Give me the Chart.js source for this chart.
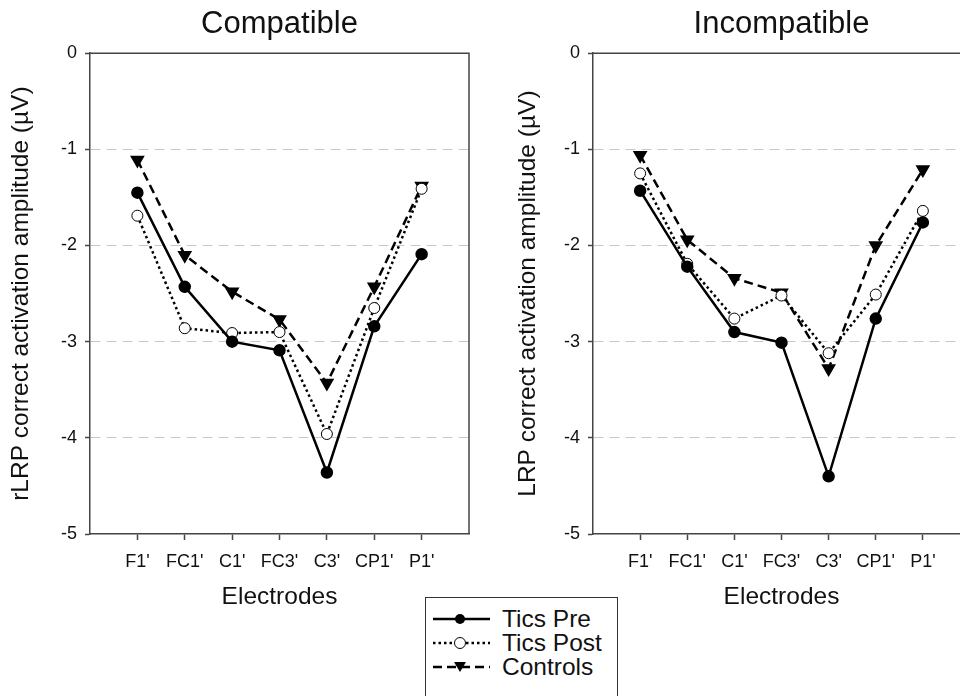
<!DOCTYPE html>
<html>
<head>
<meta charset="utf-8">
<script src="https://cdn.jsdelivr.net/npm/chart.js@4"></script>
<style>
  body { margin: 0; width: 960px; height: 696px; overflow: hidden; background: #fff; position: relative;
         font-family: "Liberation Sans", Arial, sans-serif; }
  #leftBox { position: absolute; left: 0; top: 0; width: 480px; height: 620px; }
  #rightBox { position: absolute; left: 480px; top: 0; width: 480px; height: 620px; overflow: hidden; }
  #legend { position: absolute; left: 425px; top: 597px; width: 193px; height: 120px; border: 1.5px solid #333;
            background: #fff; padding-top: 9px; box-sizing: border-box; }
  .row { display: flex; align-items: center; height: 24px; font-size: 24.5px; color: #111; }
  .row svg { margin-left: 6px; margin-right: 6px; }
</style>
</head>
<body>
<div id="leftBox"><canvas id="comp" width="480" height="620"></canvas></div>
<div id="rightBox"><canvas id="incomp" width="501" height="620"></canvas></div>
<div id="legend">
  <div class="row"><svg width="64" height="24"><line x1="1" y1="12" x2="58" y2="12" stroke="#000" stroke-width="2.5"/><circle cx="28" cy="12" r="5" fill="#000"/></svg>Tics Pre</div>
  <div class="row"><svg width="64" height="24"><line x1="1" y1="12" x2="58" y2="12" stroke="#000" stroke-width="2.5" stroke-dasharray="2.5 3"/><circle cx="28" cy="12" r="5.5" fill="#fff" stroke="#000" stroke-width="1"/></svg>Tics Post</div>
  <div class="row"><svg width="64" height="24"><line x1="1" y1="12" x2="58" y2="12" stroke="#000" stroke-width="2.5" stroke-dasharray="9 5"/><polygon points="22,7 34,7 28,17" fill="#000"/></svg>Controls</div>
</div>
<script>
// electrodes on the x axis
const electrodes = ["F1'", "FC1'", "C1'", "FC3'", "C3'", "CP1'", "P1'"];
const yTicks = [0, -1, -2, -3, -4, -5];

// Compatible
const compPre  = [-1.45, -2.43, -3.00, -3.09, -4.36, -2.84, -2.09];
const compPost = [-1.69, -2.86, -2.91, -2.90, -3.96, -2.65, -1.41];
const compCtrl = [-1.11, -2.10, -2.48, -2.77, -3.43, -2.43, -1.38];

// Incompatible
const incPre  = [-1.43, -2.22, -2.90, -3.01, -4.40, -2.76, -1.76];
const incPost = [-1.25, -2.19, -2.76, -2.52, -3.12, -2.51, -1.64];
const incCtrl = [-1.06, -1.94, -2.34, -2.49, -3.28, -2.00, -1.21];

const FONT = "'Liberation Sans', Arial, sans-serif";

// draws the top and right line of the plot frame
const framePlugin = {
  id: "frame",
  beforeDatasetsDraw(chart) {
    const {ctx, chartArea: a} = chart;
    ctx.save();
    ctx.strokeStyle = "#444";
    ctx.lineWidth = 1.5;
    ctx.beginPath();
    ctx.moveTo(a.left, a.top);
    ctx.lineTo(a.right, a.top);
    ctx.lineTo(a.right, a.bottom);
    ctx.stroke();
    ctx.restore();
  }
};

function toPoints(values) {
  return values.map((v, i) => ({x: i + 1, y: v}));
}

function makeChart(id, title, yTitle, pre, post, ctrl, yWidth, yTitlePad) {
  const datasets = [
    {
      label: "Tics Pre", data: toPoints(pre),
      borderColor: "#000", borderWidth: 2.5,
      pointStyle: "circle", pointRadius: 5, pointBackgroundColor: "#000", pointBorderColor: "#000"
    },
    {
      label: "Tics Post", data: toPoints(post),
      borderColor: "#000", borderWidth: 2.5, borderDash: [2.5, 3],
      pointStyle: "circle", pointRadius: 5.5, pointBackgroundColor: "#fff", pointBorderColor: "#000", pointBorderWidth: 1
    },
    {
      label: "Controls", data: toPoints(ctrl),
      borderColor: "#000", borderWidth: 2.5, borderDash: [9, 5],
      pointStyle: "triangle", pointRotation: 180, pointRadius: 6, pointBackgroundColor: "#000", pointBorderColor: "#000"
    }
  ];

  const config = {
    type: "line",
    data: {datasets},
    options: {
      responsive: false,
      animation: false,
      layout: {padding: {right: 11}},
      plugins: {
        legend: {display: false},
        tooltip: {enabled: false},
        title: {
          display: true, text: title, fullSize: false, color: "#111",
          font: {family: FONT, size: 31, weight: "normal"},
          padding: {top: 6, bottom: 10}
        }
      },
      scales: {
        x: {
          type: "linear", min: 0, max: 8,
          afterBuildTicks: (scale) => { scale.ticks = electrodes.map((e, i) => ({value: i + 1})); },
          afterFit: (scale) => { scale.height = 86; },
          ticks: {
            callback: (v) => electrodes[v - 1],
            autoSkip: false, maxRotation: 0, padding: 11, color: "#111",
            font: {family: FONT, size: 18}
          },
          grid: {drawOnChartArea: false, drawTicks: true, tickLength: 6, tickColor: "#444", tickWidth: 1.5},
          border: {display: true, color: "#444", width: 1.5},
          title: {
            display: true, text: "Electrodes", color: "#111",
            font: {family: FONT, size: 24.5}, padding: {top: 4, bottom: 8}
          }
        },
        y: {
          min: -5, max: 0,
          afterBuildTicks: (scale) => { scale.ticks = yTicks.map(v => ({value: v})); },
          afterFit: (scale) => { scale.width = yWidth; },
          ticks: {padding: 8, color: "#111", font: {family: FONT, size: 18}},
          grid: {
            color: (c) => (c.tick && (c.tick.value === 0 || c.tick.value === -5)) ? "rgba(0,0,0,0)" : "#c8c8c8",
            lineWidth: 1, tickLength: 5, tickColor: "#444", tickWidth: 1.5
          },
          border: {display: true, color: "#444", width: 1.5, dash: [10, 6]},
          title: {
            display: true, text: yTitle, color: "#111",
            font: {family: FONT, size: 24.5}, padding: {top: yTitlePad, bottom: 4}
          }
        }
      }
    },
    plugins: [framePlugin]
  };
  return new Chart(document.getElementById(id), config);
}

makeChart("comp", "Compatible", "rLRP correct activation amplitude (\u00b5V)", compPre, compPost, compCtrl, 90, 7);
makeChart("incomp", "Incompatible", "LRP correct activation amplitude (\u00b5V)", incPre, incPost, incCtrl, 113, 34);
</script>
</body>
</html>
